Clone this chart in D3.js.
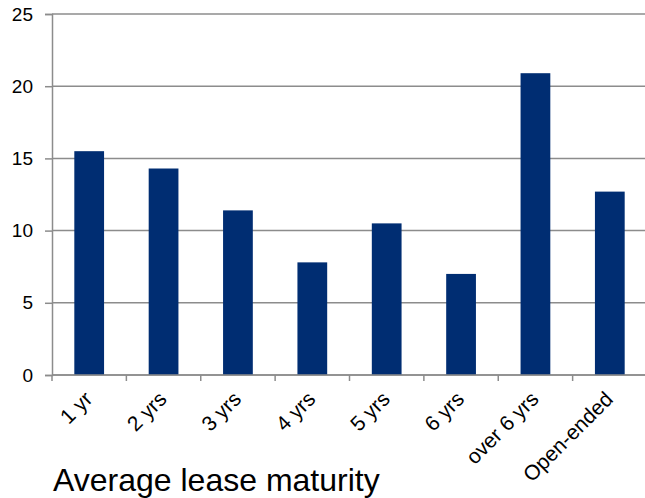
<!DOCTYPE html>
<html>
<head>
<meta charset="utf-8">
<script src="https://cdn.jsdelivr.net/npm/d3@7"></script>
<style>
  html, body { margin: 0; padding: 0; background: #fff; }
  svg { display: block; font-family: "Liberation Sans", Arial, sans-serif; }
</style>
</head>
<body>
<svg id="chart" width="645" height="498"></svg>
<script>
// Lease maturity buckets and their average values
const categories = ["1 yr", "2 yrs", "3 yrs", "4 yrs", "5 yrs", "6 yrs", "over 6 yrs", "Open-ended"];
const values = [15.5, 14.3, 11.4, 7.8, 10.5, 7.0, 20.9, 12.7];
const yTicks = [0, 5, 10, 15, 20, 25];
const title = "Average lease maturity";

const svg = d3.select("#chart");
const W = 645;
const plot = { left: 52, right: 647, top: 14, bottom: 375 };
const gridColor = "#8c8c8c";

const x = d3.scaleBand().domain(categories).range([plot.left, plot.right]).paddingInner(0.6).paddingOuter(0.3);
const y = d3.scaleLinear().domain([0, 25]).range([plot.bottom, plot.top]);

// Horizontal gridlines
svg.append("g").selectAll("line").data(yTicks).join("line")
  .attr("x1", plot.left).attr("x2", W + 2)
  .attr("y1", d => y(d)).attr("y2", d => y(d))
  .attr("stroke", gridColor).attr("stroke-width", 1.5);

// Bars
svg.append("g").selectAll("rect").data(values).join("rect")
  .attr("x", (d, i) => x(categories[i]))
  .attr("width", x.bandwidth())
  .attr("y", d => y(d))
  .attr("height", d => y(0) - y(d))
  .attr("fill", "#002D72");

// Y axis
const yAxis = svg.append("g").attr("transform", `translate(${plot.left},0)`)
  .call(d3.axisLeft(y).tickValues(yTicks).tickSize(7).tickPadding(12));
yAxis.select(".domain").attr("stroke", gridColor).attr("stroke-width", 1.5);
yAxis.selectAll(".tick line").attr("stroke", gridColor).attr("stroke-width", 1.5);
yAxis.selectAll(".tick text").attr("font-size", 19).attr("fill", "#000")
  .attr("font-family", "Liberation Sans, Arial, sans-serif");

// X axis: ticks sit on the boundaries between categories
const step = x.step();
const boundaries = d3.range(categories.length + 1).map(i => plot.left + i * step);
svg.append("line")
  .attr("x1", plot.left).attr("x2", W + 2).attr("y1", plot.bottom).attr("y2", plot.bottom)
  .attr("stroke", gridColor).attr("stroke-width", 1.5);
svg.append("g").selectAll("line").data(boundaries).join("line")
  .attr("x1", d => d).attr("x2", d => d)
  .attr("y1", plot.bottom).attr("y2", plot.bottom + 6)
  .attr("stroke", gridColor).attr("stroke-width", 1.5);

// Rotated category labels
svg.append("g").selectAll("text").data(categories).join("text")
  .attr("transform", d => `translate(${x(d) + x.bandwidth() / 2 - 6},${plot.bottom + 15}) rotate(-45)`)
  .attr("text-anchor", "end")
  .attr("dy", "0.7em")
  .attr("font-size", 21)
  .attr("fill", "#000")
  .text(d => d);

// Title below the axis
svg.append("text")
  .attr("x", 53).attr("y", 491)
  .attr("font-size", 32)
  .attr("fill", "#000")
  .text(title);
</script>
</body>
</html>
